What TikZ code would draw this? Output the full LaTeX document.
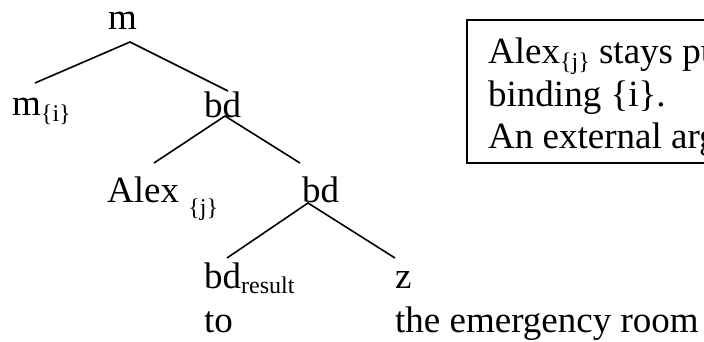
\documentclass[tikz,border=0pt]{standalone}
\usepackage{fontspec}
\setmainfont{Liberation Serif}
\newcommand{\sbs}[2][6]{\raisebox{-#1pt}{\fontsize{24}{24}\selectfont #2}}
\begin{document}
\begin{tikzpicture}[x=1pt,y=-1pt,
  txt/.style={anchor=base west, inner sep=0pt, font=\fontsize{37}{42.5}\selectfont},
  edge/.style={line width=1.6pt},
  notebox/.style={draw, line width=1.5pt, anchor=north west, inner sep=0pt, minimum width=280pt, minimum height=143pt}]
\useasboundingbox (0,0) rectangle (704,341);
\clip (0,0) rectangle (704,341);
% tree labels
\node[txt] (mtop) at (108,29) {m};
\node[txt] (mi) at (12,115) {m\sbs{\{i\}}};
\node[txt] (bd1) at (204,117) {bd};
\node[txt] (alex) at (107,202) {Alex \sbs[13]{\{j\}}};
\node[txt] (bd2) at (302,202) {bd};
\node[txt] (bdr) at (204,288) {bd\sbs[5]{result}};
\node[txt] (to) at (204,332) {to};
\node[txt] (z) at (395,288) {z};
\node[txt] (er) at (395,332) {the emergency room};
% connector end points
\coordinate (mtopb) at (130,42);
\coordinate (mit) at (35,83);
\coordinate (bd1t) at (228,91);
\coordinate (bd1b) at (225,116);
\coordinate (alext) at (154,163);
\coordinate (bd2t) at (300,163);
\coordinate (bd2b) at (308,203);
\coordinate (bdrt) at (227,258);
\coordinate (zt) at (395,258);
\draw[edge] (mit) -- (mtopb) -- (bd1t);
\draw[edge] (alext) -- (bd1b) -- (bd2t);
\draw[edge] (bdrt) -- (bd2b) -- (zt);
% note box
\node[notebox] (note) at (466,19) {};
\node[txt] (l1) at (488,63) {Alex\sbs{\{j\}} stays put};
\node[txt] (l2) at (488,106) {binding \{i\}.};
\node[txt] (l3) at (488,148) {An external argument};
\end{tikzpicture}
\end{document}
